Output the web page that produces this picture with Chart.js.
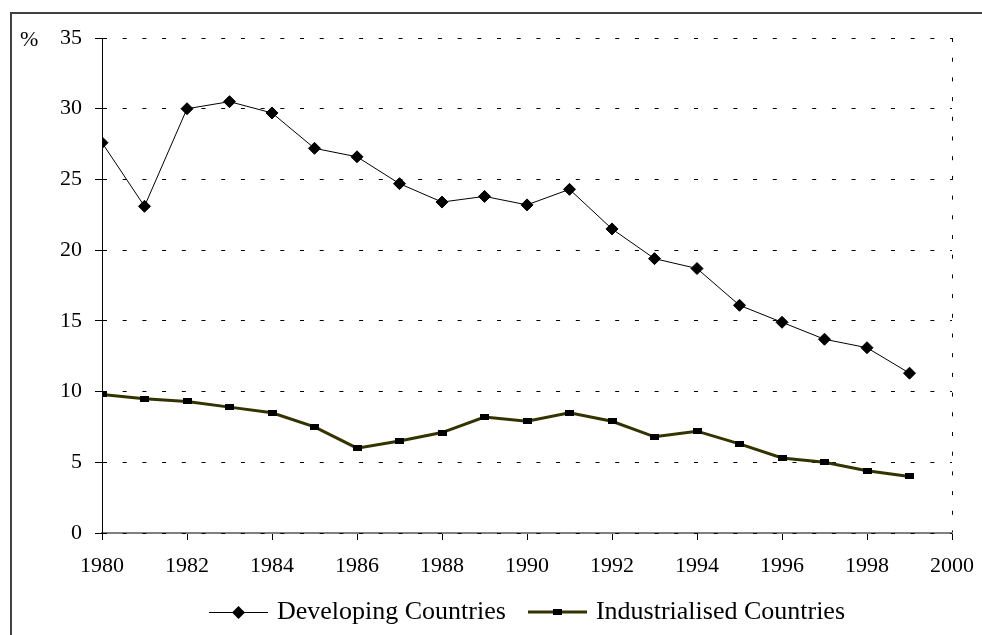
<!DOCTYPE html>
<html>
<head>
<meta charset="utf-8">
<title>Developing vs Industrialised Countries, 1980-1999</title>
<script src="https://cdn.jsdelivr.net/npm/chart.js@4.4.0/dist/chart.umd.min.js"></script>
<style>
  html, body { margin: 0; padding: 0; background: #fff; overflow: hidden; }
  #wrap { position: relative; width: 982px; height: 635px; overflow: hidden; }
  #frame {
    position: absolute; left: 10px; top: 12px; width: 1000px; height: 700px;
    border-left: 2px solid #404040; border-top: 2px solid #404040;
  }
  #myChart { position: absolute; left: 0; top: 0; }
</style>
</head>
<body>
<div id="wrap">
  <div id="frame"></div>
  <canvas id="myChart" width="982" height="635"></canvas>
</div>
<script>
// Yearly values, percent
const years = [1980, 1981, 1982, 1983, 1984, 1985, 1986, 1987, 1988, 1989,
               1990, 1991, 1992, 1993, 1994, 1995, 1996, 1997, 1998, 1999];
const developing = [27.6, 23.1, 30.0, 30.5, 29.7, 27.2, 26.6, 24.7, 23.4, 23.8,
                    23.2, 24.3, 21.5, 19.4, 18.7, 16.1, 14.9, 13.7, 13.1, 11.3];
const industrialised = [9.8, 9.5, 9.3, 8.9, 8.5, 7.5, 6.0, 6.5, 7.1, 8.2,
                        7.9, 8.5, 7.9, 6.8, 7.2, 6.3, 5.3, 5.0, 4.4, 4.0];
const seriesNames = ['Developing Countries', 'Industrialised Countries'];
const yUnit = '%';

const FONT = '"Liberation Serif", "Times New Roman", serif';
const OLIVE = '#333300';

// small canvases used as point markers and legend symbols
function makeCanvas(w, h, draw) {
  const c = document.createElement('canvas');
  c.width = w; c.height = h;
  draw(c.getContext('2d'), w, h);
  return c;
}
const squareMark = makeCanvas(9, 6, (g, w, h) => { g.fillStyle = '#000'; g.fillRect(0, 0, w, h); });
const devLegend = makeCanvas(59, 14, (g, w, h) => {
  g.strokeStyle = '#000'; g.lineWidth = 1;
  g.beginPath(); g.moveTo(0, 7.5); g.lineTo(w, 7.5); g.stroke();
  g.fillStyle = '#000';
  g.beginPath(); g.moveTo(29.5, 1); g.lineTo(36, 7.5); g.lineTo(29.5, 14); g.lineTo(23, 7.5); g.closePath(); g.fill();
});
const indLegend = makeCanvas(59, 14, (g, w, h) => {
  g.strokeStyle = OLIVE; g.lineWidth = 3;
  g.beginPath(); g.moveTo(0, 7); g.lineTo(w, 7); g.stroke();
  g.fillStyle = '#000'; g.fillRect(25, 4, 9, 6);
});
const legendIcons = [devLegend, indLegend];

const toPoints = vals => vals.map((v, i) => ({ x: years[i], y: v }));

// "%" unit label beside the top of the value axis
const unitLabel = {
  id: 'unitLabel',
  afterDraw(chart) {
    const { ctx } = chart;
    const y = chart.scales.y.getPixelForValue(35);
    ctx.save();
    ctx.font = '22px ' + FONT;
    ctx.fillStyle = '#000';
    ctx.textAlign = 'left';
    ctx.textBaseline = 'middle';
    ctx.fillText(yUnit, 20, y + 2);
    ctx.restore();
  }
};

// legend row centred under the plot area: line sample with marker, then name
const seriesLegend = {
  id: 'seriesLegend',
  afterDraw(chart) {
    const { ctx, chartArea } = chart;
    const sample = 59, textGap = 9, itemGap = 22;
    ctx.save();
    ctx.font = '26px ' + FONT;
    ctx.fillStyle = '#000';
    ctx.textAlign = 'left';
    ctx.textBaseline = 'middle';
    const widths = seriesNames.map(n => ctx.measureText(n).width);
    const total = widths.reduce((s, w) => s + sample + textGap + w, 0) + itemGap * (seriesNames.length - 1);
    let x = (chartArea.left + chartArea.right) / 2 - total / 2;
    const y = chartArea.bottom + 79;
    seriesNames.forEach((name, i) => {
      ctx.drawImage(legendIcons[i], Math.round(x), Math.round(y - 7));
      ctx.fillText(name, x + sample + textGap, y);
      x += sample + textGap + widths[i] + itemGap;
    });
    ctx.restore();
  }
};

const chartConfig = {
  type: 'line',
  data: {
    datasets: [
      {
        label: seriesNames[0],
        data: toPoints(developing),
        borderColor: '#000',
        borderWidth: 1,
        pointStyle: 'rectRot',
        pointRadius: 6,
        pointBackgroundColor: '#000',
        pointBorderColor: '#000',
        pointBorderWidth: 1,
        tension: 0
      },
      {
        label: seriesNames[1],
        data: toPoints(industrialised),
        borderColor: OLIVE,
        borderWidth: 3,
        pointStyle: squareMark,
        pointRadius: 5,
        tension: 0
      }
    ]
  },
  options: {
    responsive: false,
    animation: false,
    events: [],
    layout: { padding: { top: 38, right: 30, bottom: 44, left: 0 } },
    scales: {
      x: {
        type: 'linear',
        min: 1980,
        max: 2000,
        afterFit: s => { s.height = 58; s.paddingLeft = 0; s.paddingRight = 0; },
        ticks: {
          stepSize: 2,
          padding: 13,
          color: '#000',
          font: { family: FONT, size: 22 },
          callback: v => String(v)
        },
        grid: {
          color: c => (c.tick && c.tick.value === 2000) ? '#000' : 'rgba(0,0,0,0)',
          lineWidth: 1,
          tickLength: 7,
          tickColor: '#000',
          tickBorderDash: []
        },
        border: { display: true, color: '#808080', width: 2, dash: [4, 15.7] }
      },
      y: {
        min: 0,
        max: 35,
        afterFit: s => { s.width = 102; },
        ticks: {
          stepSize: 5,
          padding: 13,
          color: '#000',
          font: { family: FONT, size: 22 }
        },
        grid: {
          z: 0,
          color: '#000',
          lineWidth: 1,
          tickLength: 7,
          tickColor: '#000',
          tickBorderDash: []
        },
        border: { display: true, color: '#000', width: 1, dash: [4, 15.7] }
      }
    },
    plugins: {
      tooltip: { enabled: false },
      legend: { display: false }
    }
  },
  plugins: [unitLabel, seriesLegend]
};

const myChart = new Chart(document.getElementById('myChart'), chartConfig);
</script>
</body>
</html>
